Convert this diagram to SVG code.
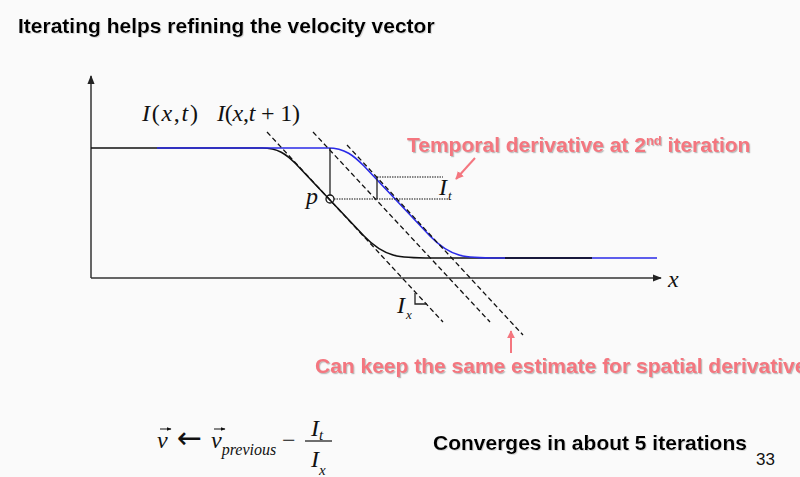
<svg xmlns="http://www.w3.org/2000/svg" width="800" height="477" viewBox="0 0 800 477">
<defs>
<style>
.title{font-family:"Liberation Sans",Arial,sans-serif;font-weight:bold;font-size:21px;fill:#000}
.red{font-family:"Liberation Sans",Arial,sans-serif;font-weight:bold;font-size:21px;fill:#f4767f}
.math{font-family:"Liberation Serif","Times New Roman",serif;font-size:24px;fill:#111}
.it{font-style:italic}
.axis{stroke:#333;stroke-width:1.5;fill:none}
.curve{stroke:#111;stroke-width:1.6;fill:none}
.blue{stroke:#2a2ae8;stroke-width:1.6;fill:none}
.dash{stroke:#111;stroke-width:1.3;stroke-dasharray:5 3;fill:none}
.dot{stroke:#111;stroke-width:1;stroke-dasharray:1.5 1;fill:none}
.thin{stroke:#222;stroke-width:1.3;fill:none}
.redline{stroke:#f4767f;stroke-width:2;fill:none}
</style>
<marker id="ah" viewBox="0 0 10 10" refX="9" refY="5" markerWidth="6" markerHeight="6" orient="auto"><path d="M0,1 L10,5 L0,9 z" fill="#222"/></marker>
<marker id="rh" viewBox="0 0 10 10" refX="9" refY="5" markerWidth="4" markerHeight="4" orient="auto"><path d="M0,0 L10,5 L0,10 z" fill="#f4767f"/></marker>
<marker id="vh" viewBox="0 0 10 10" refX="9" refY="5" markerWidth="5" markerHeight="5" orient="auto"><path d="M0,1 L10,5 L0,9 z" fill="#111"/></marker>
<filter id="sh" x="-5%" y="-20%" width="110%" height="150%"><feDropShadow dx="1.2" dy="1.2" stdDeviation="0.6" flood-color="#888" flood-opacity="0.55"/></filter>
<filter id="sh2" x="-5%" y="-20%" width="110%" height="150%"><feDropShadow dx="1" dy="1" stdDeviation="0.6" flood-color="#aaa" flood-opacity="0.4"/></filter>
</defs>
<rect width="800" height="477" fill="#fafafa"/>
<g id="title"><text class="title" x="18" y="33" filter="url(#sh2)">Iterating helps refining the velocity vector</text></g>

<g id="axes">
<line class="axis" x1="91" y1="278" x2="91" y2="76" marker-end="url(#ah)"/>
<line class="axis" x1="91" y1="278" x2="661" y2="278" marker-end="url(#ah)"/>
<text class="math it" x="668" y="287">x</text>
</g>

<g id="curves">
<path class="curve" d="M91,148 H262 C278,148 286,154 296,164 L364,236 C385,258 400,258 432,258 H592"/>
<path class="blue" d="M157,148 H328 C345,148 354,156 364,166 L430,236 C451,258 466,258 498,258 H657"/>
<path class="curve" d="M505,258 H592"/>
</g>

<g id="connectors">
<line class="dash" x1="267" y1="132" x2="443" y2="322"/>
<line class="dash" x1="313" y1="132" x2="490" y2="322"/>
<line class="dash" x1="347" y1="145" x2="523" y2="335"/>
<line class="thin" x1="330" y1="148" x2="330" y2="195"/>
<line class="thin" x1="377" y1="177" x2="377" y2="199"/>
<line class="dot" x1="334" y1="199" x2="448" y2="199"/>
<line class="dot" x1="377" y1="177" x2="443" y2="177"/>
<polyline class="thin" points="415,293 415,304 427,304"/>
<line class="redline" x1="475" y1="158" x2="456" y2="179" marker-end="url(#rh)"/>
<line class="redline" x1="511" y1="353" x2="511" y2="331" marker-end="url(#rh)"/>
</g>

<g id="point-p">
<circle cx="330" cy="199" r="4" fill="none" stroke="#111" stroke-width="1.3"/>
<text class="math it" x="306" y="204" font-size="22">p</text>
</g>

<g id="labels">
<text class="math" x="142" y="121" textLength="56" lengthAdjust="spacing"><tspan class="it">I</tspan>(<tspan class="it">x</tspan>,<tspan class="it">t</tspan>)</text>
<text class="math" x="217" y="121" textLength="83" lengthAdjust="spacing"><tspan class="it">I</tspan>(<tspan class="it">x</tspan>,<tspan class="it">t</tspan> + 1)</text>
<text class="math it" x="439" y="195" font-size="22">I<tspan font-size="13" dx="1" dy="5">t</tspan></text>
<text class="math it" x="397" y="313" font-size="22">I<tspan font-size="13" dx="1" dy="6">x</tspan></text>
</g>

<g id="note-temporal"><text class="red" x="407" y="152" filter="url(#sh)">Temporal derivative at 2<tspan font-size="13" dy="-7">nd</tspan><tspan dy="7"> iteration</tspan></text></g>
<g id="note-spatial"><text class="red" x="315" y="373" filter="url(#sh)">Can keep the same estimate for spatial derivative</text></g>

<g id="formula">
<text class="math" x="157" y="448" font-size="26"><tspan class="it">v</tspan><tspan x="177" font-family="'DejaVu Sans',sans-serif" font-size="30">←</tspan><tspan class="it" x="211">v</tspan><tspan class="it" font-size="16" dy="7">previous</tspan><tspan x="282" dy="-7">−</tspan></text>
<line x1="160" y1="429" x2="171" y2="429" stroke="#111" stroke-width="1" marker-end="url(#vh)"/>
<line x1="214" y1="429" x2="225" y2="429" stroke="#111" stroke-width="1" marker-end="url(#vh)"/>
<line x1="305" y1="441" x2="332" y2="441" stroke="#111" stroke-width="1.2"/>
<text class="math it" x="311" y="436" font-size="26">I<tspan font-size="15" dy="4">t</tspan></text>
<text class="math it" x="311" y="467" font-size="26">I<tspan font-size="15" dy="8">x</tspan></text>
</g>

<g id="note-converge"><text class="title" x="433" y="450" filter="url(#sh2)">Converges in about 5 iterations</text></g>
<g id="page"><text x="756" y="465" font-family="'Liberation Sans Narrow','Liberation Sans',Arial,sans-serif" font-size="17" fill="#111">33</text></g>
</svg>
